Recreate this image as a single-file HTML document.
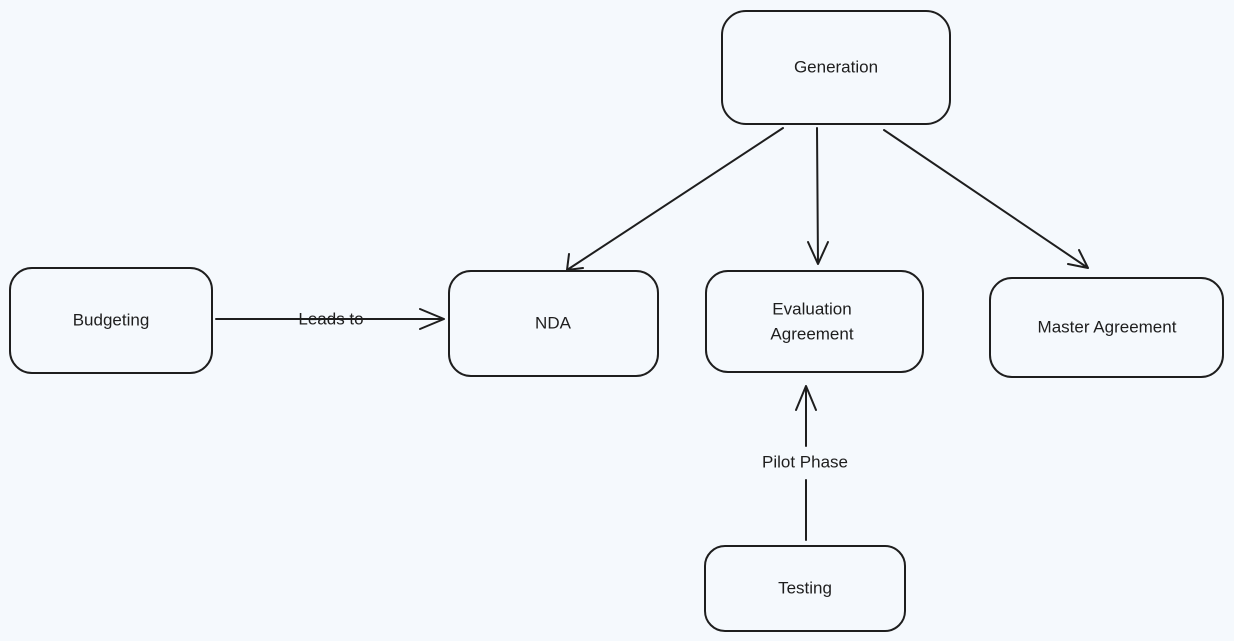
<!DOCTYPE html>
<html><head><meta charset="utf-8"><style>
html,body{margin:0;padding:0;background:#f5f9fd;}
svg{display:block}
text{font-family:"Liberation Sans",sans-serif;font-size:17px;fill:#1e1e1e;text-anchor:middle;dominant-baseline:middle}
</style></head><body>
<svg width="1234" height="641" viewBox="0 0 1234 641" xmlns="http://www.w3.org/2000/svg">
<rect width="1234" height="641" fill="#f5f9fd"/>
<g fill="none" stroke="#1e1e1e" stroke-width="2" stroke-linecap="round" stroke-linejoin="round">
<rect x="722" y="11" width="228" height="113" rx="24"/>
<rect x="10" y="268" width="202" height="105" rx="22"/>
<rect x="449" y="271" width="209" height="105" rx="22"/>
<rect x="706" y="271" width="217" height="101" rx="22"/>
<rect x="990" y="278" width="233" height="99" rx="22"/>
<rect x="705" y="546" width="200" height="85" rx="20"/>
<path d="M783 128 L567 270 M569 254 L567 270 L583 268"/>
<path d="M817 128 L818 264 M808 242 L818 264 L828 242"/>
<path d="M884 130 L1088 268 M1068 264 L1088 268 L1079 250"/>
<path d="M216 319 L444 319 M420 309 L444 319 L420 329"/>
<path d="M806 540 L806 480 M806 446 L806 386 M796 410 L806 386 L816 410"/>
</g>
<text x="836" y="68">Generation</text>
<text x="111" y="321">Budgeting</text>
<text x="553" y="324">NDA</text>
<text x="812" y="310">Evaluation</text>
<text x="812" y="335">Agreement</text>
<text x="1107" y="328">Master Agreement</text>
<text x="805" y="589">Testing</text>
<text x="331" y="320">Leads to</text>
<text x="805" y="463">Pilot Phase</text>
</svg>
</body></html>
